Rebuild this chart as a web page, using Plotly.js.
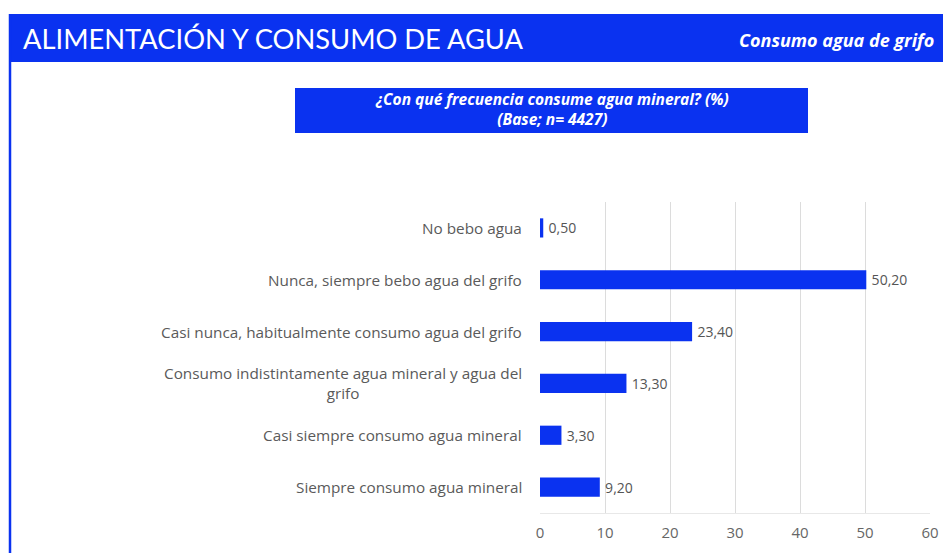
<!DOCTYPE html>
<html>
<head>
<meta charset="utf-8">
<script src="https://cdn.plot.ly/plotly-3.0.1.min.js"></script>
<style>html,body{margin:0;padding:0;background:#fff;}#chart{width:943px;height:553px;}</style>
</head>
<body>
<div id="chart"></div>
<script>
const categories = [
  "No bebo agua",
  "Nunca, siempre bebo agua del grifo",
  "Casi nunca, habitualmente consumo agua del grifo",
  "Consumo indistintamente agua mineral y agua del<br>grifo",
  "Casi siempre consumo agua mineral",
  "Siempre consumo agua mineral"
];
const values = [0.5, 50.2, 23.4, 13.3, 3.3, 9.2];
const xTicks = [0, 10, 20, 30, 40, 50, 60];
const headerTitle = "ALIMENTACIÓN Y CONSUMO DE AGUA";
const headerSubtitle = "Consumo agua de grifo";
const questionLines = ["¿Con qué frecuencia consume agua mineral? (%)", "(Base; n= 4427)"];

const W = 943, H = 553;
const M = {l: 540, r: 13, t: 202, b: 40};
const pw = W - M.l - M.r, ph = H - M.t - M.b;
const px = v => (v - M.l) / pw;
const py = v => (H - M.b - v) / ph;

const BLUE = "#0a32f0";
const labels = values.map(v => "\u2009" + v.toFixed(2).replace(".", ","));

const trace = {
  type: "bar",
  orientation: "h",
  y: categories,
  x: values,
  width: 0.37,
  marker: {color: BLUE},
  text: labels,
  textposition: "outside",
  textfont: {family: "Open Sans, sans-serif", size: 14, color: "#555"},
  cliponaxis: false,
  hoverinfo: "none"
};

const annotations = categories.map(c => ({
  xref: "paper", yref: "y", x: px(524), y: c,
  xanchor: "right", yanchor: "middle", align: "center",
  text: c, showarrow: false,
  font: {family: "Open Sans, sans-serif", size: 15.3, color: "#5a5a5a"}
}));

annotations.push({
  xref: "paper", yref: "paper", x: px(21), y: py(39),
  xanchor: "left", yanchor: "middle", text: headerTitle, showarrow: false,
  font: {family: "Lato, sans-serif", size: 27.3, color: "#fff"}
});
annotations.push({
  xref: "paper", yref: "paper", x: px(936), y: py(40),
  xanchor: "right", yanchor: "middle", text: "<b><i>" + headerSubtitle + "</i></b>", showarrow: false,
  font: {family: "Open Sans, sans-serif", size: 18, color: "#fff"}
});
annotations.push({
  xref: "paper", yref: "paper", x: px(552), y: py(109),
  xanchor: "center", yanchor: "middle", align: "center",
  text: questionLines.map(s => "<b><i>" + s + "</i></b>").join("<br>"), showarrow: false,
  font: {family: "Open Sans, sans-serif", size: 15.5, color: "#fff"}
});

const shapes = [
  {type: "rect", xref: "paper", yref: "paper", x0: px(9), x1: px(943), y0: py(14), y1: py(62),
   fillcolor: BLUE, line: {width: 0}, layer: "above"},
  {type: "line", xref: "paper", yref: "paper", x0: px(10), x1: px(10), y0: py(14), y1: py(553),
   line: {color: BLUE, width: 2.5}},
  {type: "rect", xref: "paper", yref: "paper", x0: px(295), x1: px(808), y0: py(88), y1: py(133),
   fillcolor: BLUE, line: {width: 0}}
];

const layout = {
  width: W, height: H,
  margin: M,
  paper_bgcolor: "#fff", plot_bgcolor: "#fff",
  showlegend: false,
  xaxis: {
    range: [0, 60], tickvals: xTicks, ticktext: xTicks.map(String),
    showgrid: true, gridcolor: "#dcdcdc", gridwidth: 1, zeroline: false,
    showline: true, linecolor: "#e8e8e8", linewidth: 1, ticks: "",
    ticklabelstandoff: 6,
    tickfont: {family: "Open Sans, sans-serif", size: 15, color: "#666"},
    fixedrange: true
  },
  yaxis: {
    categoryorder: "array", categoryarray: categories,
    autorange: "reversed", showticklabels: false, ticks: "",
    showgrid: false, zeroline: false, showline: false, fixedrange: true
  },
  shapes: shapes,
  annotations: annotations
};

Plotly.newPlot("chart", [trace], layout, {displayModeBar: false, staticPlot: true});
</script>
</body>
</html>
